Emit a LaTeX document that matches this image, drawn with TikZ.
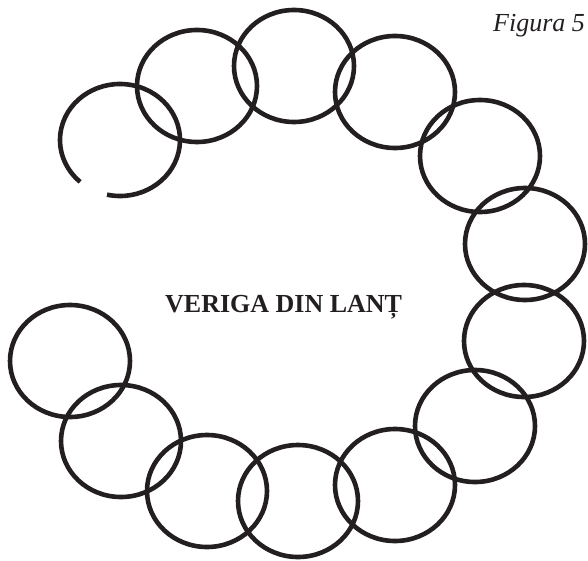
\documentclass[tikz,border=0pt]{standalone}
\usepackage{fontspec}
\setmainfont{Liberation Serif}
\usetikzlibrary{shapes.geometric}
\definecolor{ink}{HTML}{231F20}
\begin{document}
\begin{tikzpicture}[x=1pt,y=-1pt,
  ring/.style={draw=ink,line width=4.6pt},
  lbl/.style={text=ink,inner sep=0pt,font=\fontsize{26}{30}\selectfont}]
\useasboundingbox (0,0) rectangle (588,561);
% open ring
\coordinate (c1) at (120,140);
\draw[ring] ([shift={(-102.5:60pt and 56pt)}]c1) arc[start angle=-102.5,end angle=228.4,x radius=60pt,y radius=56pt];
\foreach \n/\x/\y in {2/197/86,3/294/66,4/395/92,5/480/156,6/525/244,7/524/341,8/475/426,9/395/485,10/298/501,11/207/491,12/121/441,13/70/361}{
  \node[ring,ellipse,minimum width=120pt,minimum height=112pt,inner sep=0pt] (r\n) at (\x,\y) {};
}
\node[lbl,anchor=base west,font=\fontsize{26}{30}\selectfont\bfseries] (title) at (165,312) {VERIGA DIN LANȚ};
\node[lbl,anchor=base west,font=\fontsize{26}{30}\selectfont\itshape] (fig) at (493,32) {Figura 5};
\end{tikzpicture}
\end{document}
